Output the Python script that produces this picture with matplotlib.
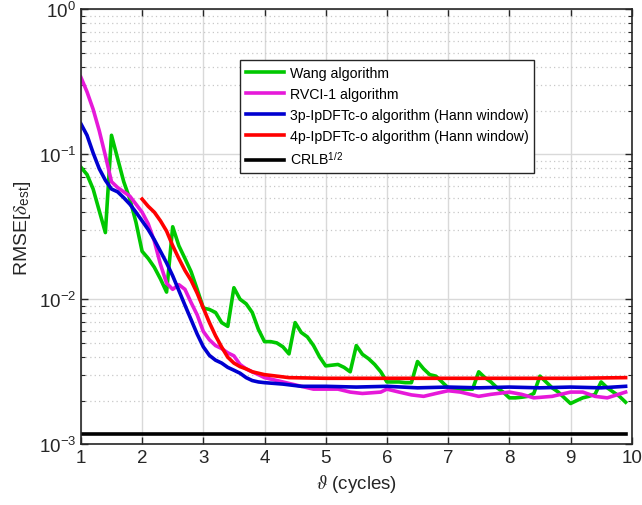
import numpy as np
import matplotlib
matplotlib.use('Agg')
import matplotlib.pyplot as plt
from matplotlib.ticker import LogLocator, NullFormatter

plt.rcParams['font.family'] = ['Liberation Sans', 'DejaVu Sans']
plt.rcParams['mathtext.fontset'] = 'stix'

# Wang algorithm, x = 1.0 .. 9.9 step 0.1
wang_x = [round(1.0 + 0.1 * i, 1) for i in range(90)]
wang_y = [0.0813, 0.0724, 0.0575, 0.0407, 0.0288, 0.135, 0.0933, 0.0646, 0.049, 0.0339,
          0.0214, 0.0191, 0.0166, 0.0138, 0.0112, 0.0316, 0.0234, 0.0191, 0.0155, 0.0117,
          0.0087, 0.0085, 0.0081, 0.0069, 0.0065, 0.0120, 0.0100, 0.0093, 0.0081, 0.0062,
          0.0051, 0.0051, 0.0050, 0.0047, 0.0042, 0.0069, 0.0059, 0.0055, 0.0048, 0.0040,
          0.00347, 0.00351, 0.00355, 0.00339, 0.00316, 0.00479, 0.00417, 0.00389, 0.00355, 0.00316,
          0.00269, 0.00269, 0.00269, 0.00266, 0.00266, 0.00372, 0.00331, 0.00302, 0.00295, 0.00269,
          0.00245, 0.0024, 0.0024, 0.0024, 0.0024, 0.00316, 0.00288, 0.00269, 0.00245, 0.00229,
          0.00209, 0.00209, 0.00211, 0.00214, 0.00224, 0.00295, 0.00269, 0.00245, 0.00229, 0.00209,
          0.00191, 0.0020, 0.00209, 0.00214, 0.00221, 0.00269, 0.00245, 0.00229, 0.00214, 0.00195]

# RVCI-1 algorithm
rvci_x = [1.0, 1.1, 1.2, 1.3, 1.4, 1.5, 1.6, 1.7, 1.8, 1.9, 2.0, 2.1, 2.2, 2.3, 2.4, 2.5,
          2.6, 2.7, 2.8, 2.9, 3.0, 3.1, 3.2, 3.3, 3.4, 3.5, 3.6, 3.7, 3.8, 3.9, 4.0,
          4.3, 4.6, 4.8, 5.0, 5.2, 5.4, 5.6, 5.9, 6.0, 6.2, 6.4, 6.6, 6.8, 7.0, 7.2,
          7.5, 7.7, 8.0, 8.2, 8.4, 8.7, 9.0, 9.2, 9.4, 9.6, 9.9]
rvci_y = [0.339, 0.269, 0.204, 0.145, 0.0977, 0.0646, 0.0589, 0.0550, 0.0513, 0.0452, 0.0398,
          0.0331, 0.0251, 0.0174, 0.0129, 0.0117, 0.0126, 0.0117, 0.0095, 0.0078, 0.0060,
          0.00525, 0.00479, 0.00457, 0.00427, 0.00407, 0.00355, 0.00331, 0.00316, 0.00302, 0.00288,
          0.00269, 0.00251, 0.0024, 0.0024, 0.0024, 0.00229, 0.00224, 0.00229, 0.0024, 0.00229,
          0.00219, 0.00214, 0.00224, 0.00234, 0.00229, 0.00214, 0.00221, 0.00229, 0.00221, 0.00209,
          0.00214, 0.00229, 0.00229, 0.00214, 0.00209, 0.00229]

# 3p-IpDFTc-o algorithm (Hann window)
p3_x = [1.0, 1.1, 1.2, 1.3, 1.4, 1.5, 1.6, 1.7, 1.8, 1.9, 2.0, 2.1, 2.2, 2.3, 2.4, 2.5,
        2.6, 2.7, 2.8, 2.9, 3.0, 3.1, 3.2, 3.3, 3.4, 3.5, 3.6, 3.7, 3.8, 3.9, 4.0,
        4.3, 4.6, 5.0, 5.5, 6.0, 6.5, 7.0, 7.5, 8.0, 8.5, 9.0, 9.5, 9.9]
p3_y = [0.162, 0.135, 0.102, 0.0794, 0.0661, 0.0575, 0.055, 0.0501, 0.0452, 0.0398, 0.0347,
        0.0302, 0.0257, 0.0214, 0.0178, 0.0145, 0.0115, 0.0091, 0.00724, 0.00575, 0.00470,
        0.00410, 0.0038, 0.00363, 0.00339, 0.00324, 0.00309, 0.00288, 0.00275, 0.00269, 0.00266,
        0.0026, 0.00251, 0.00251, 0.00248, 0.00251, 0.00245, 0.00248, 0.00245, 0.00248, 0.00245,
        0.00248, 0.00245, 0.00251]

# 4p-IpDFTc-o algorithm (Hann window)
p4_x = [2.0, 2.1, 2.2, 2.3, 2.4, 2.5, 2.6, 2.7, 2.8, 2.9, 3.0, 3.1, 3.2, 3.3, 3.4, 3.5,
        3.6, 3.7, 3.8, 3.9, 4.0, 4.2, 4.4, 5.0, 6.0, 7.0, 8.0, 9.0, 9.9]
p4_y = [0.049, 0.0437, 0.0398, 0.0347, 0.0295, 0.0234, 0.0191, 0.0158, 0.0135, 0.0110, 0.0087,
        0.0069, 0.0056, 0.00468, 0.00398, 0.00363, 0.00343, 0.00331, 0.00316, 0.00309, 0.00302,
        0.00295, 0.00288, 0.00285, 0.00285, 0.00285, 0.00285, 0.00285, 0.00288]

# CRLB^(1/2)
crlb_x = [1.0, 9.9]
crlb_y = [0.00117, 0.00117]

fig = plt.figure(figsize=(6.42, 5.06), dpi=100)
ax = fig.add_axes([0.126, 0.120, 0.858, 0.860])

lw = 2.6
ax.plot(wang_x, wang_y, color='#00c800', lw=lw, label='Wang algorithm')
ax.plot(rvci_x, rvci_y, color='#e619d9', lw=lw, label='RVCI-1 algorithm')
ax.plot(p3_x, p3_y, color='#0000d0', lw=lw, label='3p-IpDFTc-o algorithm (Hann window)')
ax.plot(p4_x, p4_y, color='#ff0000', lw=lw, label='4p-IpDFTc-o algorithm (Hann window)')
ax.plot(crlb_x, crlb_y, color='black', lw=lw, label=r'CRLB$^{\mathdefault{1/2}}$')

ax.set_yscale('log')
ax.set_xlim(1, 10)
ax.set_ylim(1e-3, 1)
ax.set_xticks(range(1, 11))
ax.yaxis.set_major_locator(LogLocator(base=10, numticks=10))
ax.yaxis.set_minor_locator(LogLocator(base=10, subs=np.arange(2, 10), numticks=10))
ax.yaxis.set_minor_formatter(NullFormatter())

ax.grid(True, which='major', color='#d9d9d9', lw=1.0, ls='-')
ax.grid(True, which='minor', axis='y', color='#c8c8c8', lw=0.9, ls=(0, (1, 2.5)))
ax.set_axisbelow(True)

ax.tick_params(which='both', direction='in', top=True, right=True, colors='#262626',
               labelsize=13.5)
ax.tick_params(which='major', length=5, width=1)
ax.tick_params(which='minor', length=3, width=0.8)
for s in ax.spines.values():
    s.set_color('#262626')
    s.set_linewidth(1.2)

ax.set_xlabel(r'$\vartheta$ (cycles)', fontsize=13.5, color='#262626')
ax.set_ylabel(r'RMSE[$\delta_{\mathdefault{est}}$]', fontsize=14, color='#262626')

leg = ax.legend(loc='upper left', bbox_to_anchor=(0.289, 0.882), fontsize=10.2,
                handlelength=2.7, fancybox=False, framealpha=1, edgecolor='#262626',
                borderpad=0.4, labelspacing=0.5, handletextpad=0.4, borderaxespad=0)
leg.get_frame().set_linewidth(1.0)

fig.savefig('out.png', dpi=100)
